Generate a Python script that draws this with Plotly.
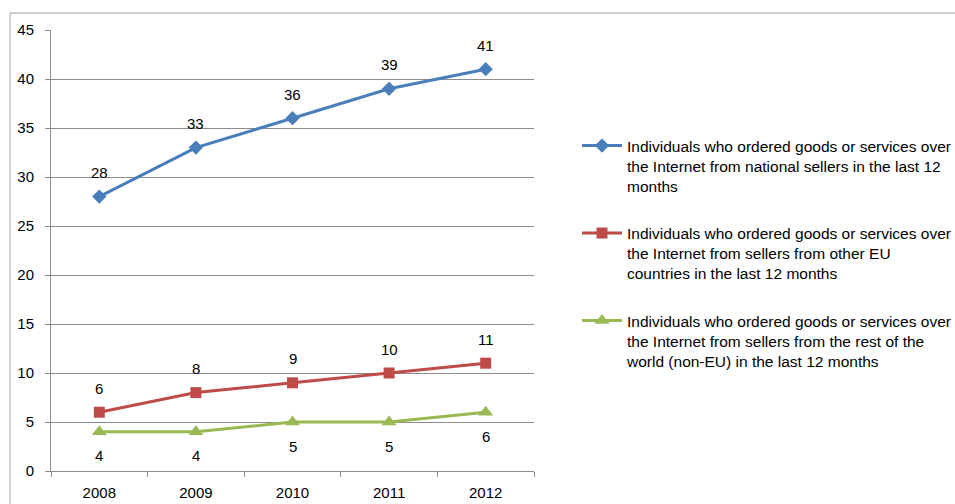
import plotly.graph_objects as go

# Share of individuals ordering goods/services online, by seller origin (%)
years = ["2008", "2009", "2010", "2011", "2012"]
national = [28, 33, 36, 39, 41]
other_eu = [6, 8, 9, 10, 11]
non_eu = [4, 4, 5, 5, 6]

names = [
    "Individuals who ordered goods or services over<br>the Internet from national sellers in the last 12<br>months",
    "Individuals who ordered goods or services over<br>the Internet from sellers from other EU<br>countries in the last 12 months",
    "Individuals who ordered goods or services over<br>the Internet from sellers from the rest of the<br>world (non-EU) in the last 12 months",
]
y_ticks = list(range(0, 46, 5))

W, H = 955, 504
L, R, T, B = 51, 534, 30, 471  # plot area in pixels
FONT = "Liberation Sans, Arial"

series = [
    (national, "#4A7EBB", "diamond", 11, names[0], 24),
    (other_eu, "#BE4B48", "square", 11, names[1], 24),
    (non_eu, "#98B954", "triangle-up", 13, names[2], -24),
]

fig = go.Figure()
annotations = []
for i, (vals, color, sym, msize, name, shift) in enumerate(series):
    fig.add_trace(go.Scatter(
        x=years, y=vals, mode="lines+markers", name=name,
        legendgroup=f"g{i}",
        line=dict(color=color, width=3),
        marker=dict(symbol=sym, size=msize, color=color),
    ))
    for k, v in enumerate(vals):
        annotations.append(dict(
            x=k, y=v, xref="x", yref="y", text=str(v),
            showarrow=False, yshift=shift,
            font=dict(family=FONT, size=15, color="#000"),
        ))

grid = "#8C8C8C"
fig.update_layout(
    width=W, height=H,
    margin=dict(l=L, r=W - R, t=T, b=H - B, autoexpand=False),
    paper_bgcolor="white", plot_bgcolor="white",
    font=dict(family=FONT, size=15, color="#000"),
    showlegend=True,
    legend=dict(
        x=(577 - L) / (R - L), y=(B - 129) / (B - T),
        xanchor="left", yanchor="top",
        font=dict(family=FONT, size=15.5, color="#000"),
        traceorder="grouped", tracegroupgap=24, valign="top",
        itemwidth=40, bgcolor="rgba(0,0,0,0)",
    ),
    xaxis=dict(
        type="category", range=[-0.5, 4.5],
        showgrid=False, showline=True, linecolor=grid, linewidth=1,
        ticks="outside", tickson="boundaries", ticklen=5, tickcolor=grid,
        zeroline=False, ticklabelstandoff=8,
        tickfont=dict(family=FONT, size=15, color="#000"),
    ),
    yaxis=dict(
        range=[0, 45], tickvals=y_ticks,
        showgrid=True, gridcolor=grid, gridwidth=1,
        showline=True, linecolor=grid, linewidth=1,
        ticks="outside", ticklen=5, tickcolor=grid,
        zeroline=False, ticklabelstandoff=8,
        tickfont=dict(family=FONT, size=15, color="#000"),
    ),
    annotations=annotations,
    shapes=[dict(
        type="rect", xref="paper", yref="paper",
        x0=(10 - L) / (R - L), x1=2.2,
        y0=-0.3, y1=(B - 13) / (B - T),
        line=dict(color="#A0A0A0", width=1), fillcolor="rgba(0,0,0,0)",
        layer="below",
    )],
)

fig.write_html("out.html")
